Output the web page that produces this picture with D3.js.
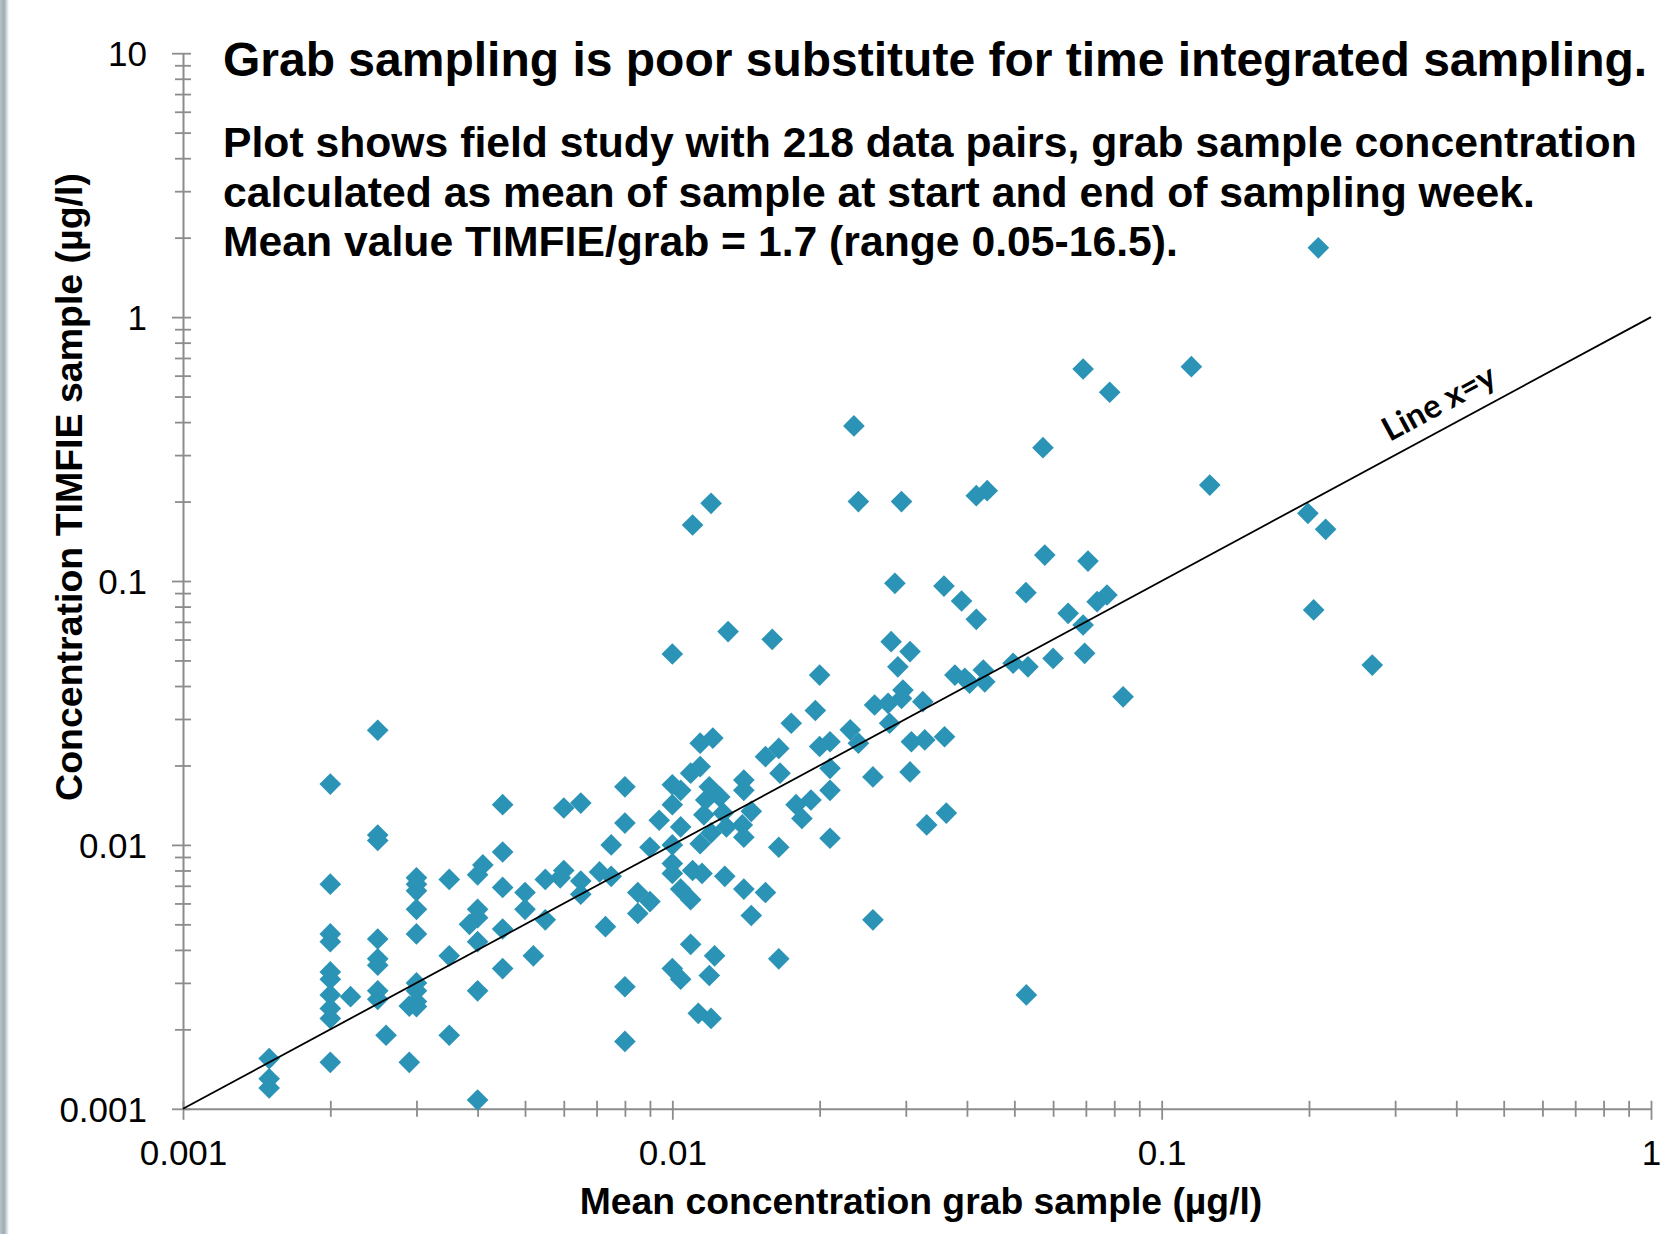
<!DOCTYPE html>
<html>
<head>
<meta charset="utf-8">
<script src="https://cdn.jsdelivr.net/npm/d3@7/dist/d3.min.js"></script>
<style>
  html, body { margin: 0; padding: 0; background: #ffffff; }
  svg { display: block; }
</style>
</head>
<body>
<script>
// ---------------- DATA ----------------
// Mean concentration grab sample (µg/l)
const grabConc = [
  0.0015, 0.0015, 0.0015,
  0.002, 0.002, 0.002, 0.002, 0.002, 0.002, 0.002, 0.002, 0.002, 0.002,
  0.0022,
  0.0025, 0.0025, 0.0025, 0.0025, 0.0025, 0.0025, 0.0025, 0.0025,
  0.0026,
  0.003, 0.003, 0.003, 0.003, 0.003, 0.003, 0.003, 0.003, 0.003,
  0.0029, 0.0029,
  0.0035, 0.0035, 0.0035,
  0.00385, 0.004, 0.0041,
  0.004, 0.004, 0.004, 0.004, 0.004,
  0.0045, 0.0045, 0.0045, 0.0045, 0.0045,
  // central cluster
  0.0114, 0.0109, 0.0100, 0.0104, 0.0080, 0.0060, 0.0065, 0.0100, 0.0080, 0.0094,
  0.0104, 0.0075, 0.0090, 0.0100, 0.0100, 0.0100, 0.0110, 0.0060, 0.0059, 0.0055,
  0.0065, 0.0071, 0.0075, 0.0050, 0.0065, 0.0085, 0.0090, 0.0104, 0.0109, 0.0050,
  0.0085, 0.0055, 0.0073, 0.0052, 0.0109, 0.0100, 0.0104, 0.0080, 0.0113, 0.0080,
  // 0.011 - 0.026
  0.0175, 0.0231, 0.0240, 0.0121, 0.0165, 0.0155, 0.0200, 0.0210, 0.0114, 0.0166,
  0.0210, 0.0140, 0.0140, 0.0119, 0.0125, 0.0117, 0.0210, 0.0192, 0.0179, 0.0184,
  0.0145, 0.0116, 0.0127, 0.0139, 0.0140, 0.0129, 0.0120, 0.0114, 0.0165, 0.0210,
  0.0257, 0.0115, 0.0128, 0.0140, 0.0155, 0.0145, 0.0257, 0.0122, 0.0165, 0.0119,
  0.0120,
  // 0.026 - 0.08
  0.0280, 0.0306, 0.0289, 0.0378, 0.0396, 0.0405, 0.0432, 0.0435, 0.0497, 0.0533,
  0.0600, 0.0696, 0.0296, 0.0294, 0.0276, 0.0259, 0.0325, 0.0278, 0.0308, 0.0328,
  0.0360, 0.0306, 0.0834, 0.0331, 0.0363, 0.0529,
  // upper part
  0.0235, 0.0572, 0.0120, 0.0110, 0.0240, 0.0294, 0.0418, 0.0440, 0.0577, 0.0285,
  0.0359, 0.0390, 0.0418, 0.0528, 0.0130, 0.0160, 0.0100, 0.0200, 0.0196,
  // right part
  0.0691, 0.115, 0.0783, 0.1254, 0.199, 0.2163, 0.0707, 0.0773, 0.0738, 0.0644,
  0.0691, 0.2045, 0.2694,
  0.209
];
// Concentration TIMFIE sample (µg/l)
const timfieConc = [
  0.00155, 0.0013, 0.0012,
  0.017, 0.0071, 0.0046, 0.0043, 0.0033, 0.0031, 0.0027, 0.0024, 0.0022, 0.0015,
  0.00266,
  0.0272, 0.0109, 0.0104, 0.0044, 0.0037, 0.0035, 0.0028, 0.0026,
  0.0019,
  0.0075, 0.0071, 0.0067, 0.0057, 0.0046, 0.0030, 0.0028, 0.00255, 0.00244,
  0.00245, 0.0015,
  0.0074, 0.0038, 0.0019,
  0.0050, 0.0077, 0.0084,
  0.0057, 0.0053, 0.0043, 0.0028, 0.00108,
  0.0142, 0.0094, 0.0069, 0.0048, 0.0034,
  // central cluster
  0.0243, 0.0187, 0.0169, 0.0161, 0.0166, 0.0138, 0.0144, 0.0142, 0.0121, 0.0124,
  0.0117, 0.0100, 0.0098, 0.0100, 0.0085, 0.0078, 0.0080, 0.0080, 0.0075, 0.0074,
  0.0073, 0.0079, 0.0076, 0.0066, 0.0065, 0.0066, 0.0061, 0.0068, 0.0062, 0.0057,
  0.0055, 0.0052, 0.0049, 0.0038, 0.0042, 0.0034, 0.0031, 0.0029, 0.0023, 0.0018,
  // 0.011 - 0.026
  0.0289, 0.0273, 0.0243, 0.0254, 0.0232, 0.0216, 0.0236, 0.0246, 0.0198, 0.0187,
  0.0195, 0.0176, 0.0161, 0.0166, 0.0152, 0.0148, 0.0161, 0.0148, 0.0142, 0.0126,
  0.0134, 0.0130, 0.0132, 0.0119, 0.0107, 0.0117, 0.0111, 0.0101, 0.0098, 0.0106,
  0.0181, 0.0078, 0.0076, 0.0068, 0.0066, 0.0054, 0.0052, 0.0038, 0.0037, 0.0032,
  0.0022,
  // 0.026 - 0.08
  0.0589, 0.0540, 0.0473, 0.0440, 0.0428, 0.0410, 0.0460, 0.0415, 0.0488, 0.0473,
  0.0509, 0.0532, 0.0386, 0.0359, 0.0344, 0.0339, 0.0349, 0.0289, 0.0246, 0.0250,
  0.0257, 0.0189, 0.0364, 0.0119, 0.0132, 0.0027,
  // upper part
  0.387, 0.320, 0.197, 0.163, 0.200, 0.200, 0.2105, 0.220, 0.1254, 0.098,
  0.0957, 0.084, 0.0716, 0.0903, 0.0643, 0.0601, 0.0529, 0.0440, 0.0323,
  // right part
  0.636, 0.649, 0.519, 0.231, 0.1805, 0.157, 0.119, 0.0885, 0.0835, 0.0754,
  0.0681, 0.0777, 0.048,
  1.83
];

const xTickValues = [0.001, 0.01, 0.1, 1];
const xTickLabels = ["0.001", "0.01", "0.1", "1"];
const yTickValues = [0.001, 0.01, 0.1, 1, 10];
const yTickLabels = ["0.001", "0.01", "0.1", "1", "10"];
const lineXY = [0.001, 1];

const titleText = "Grab sampling is poor substitute for time integrated sampling.";
const noteLines = [
  "Plot shows field study with 218 data pairs, grab sample concentration",
  "calculated as mean of sample at start and end of sampling week.",
  "Mean value TIMFIE/grab = 1.7 (range 0.05-16.5)."
];
const xTitle = "Mean concentration grab sample (µg/l)";
const yTitle = "Concentration TIMFIE sample (µg/l)";
const lineLabel = "Line x=y";

// ---------------- CHART ----------------
const W = 1667, H = 1234;
const FONT = "'Liberation Sans', Arial, Helvetica, sans-serif";
const AXIS_COLOR = "#8c8c8c";
const MARK_COLOR = "#2b94b6";

const svg = d3.select("body").append("svg")
  .attr("width", W).attr("height", H)
  .style("font-family", FONT);

svg.append("rect").attr("width", W).attr("height", H).attr("fill", "#ffffff");

// window edge strip at left
const defs = svg.append("defs");
const grad = defs.append("linearGradient").attr("id", "edge").attr("x1", 0).attr("x2", 1).attr("y1", 0).attr("y2", 0);
grad.append("stop").attr("offset", 0).attr("stop-color", "#b9c3c9");
grad.append("stop").attr("offset", 0.45).attr("stop-color", "#9eabb2");
grad.append("stop").attr("offset", 1).attr("stop-color", "#ffffff");
svg.append("rect").attr("x", 0).attr("y", 0).attr("width", 9).attr("height", H).attr("fill", "url(#edge)");

const x = d3.scaleLog().domain([0.001, 1]).range([183, 1651]);
const y = d3.scaleLog().domain([0.001, 10]).range([1108.8, 53.2]);

function minorTicks(domain) {
  const out = [];
  const lo = Math.round(Math.log10(domain[0])), hi = Math.round(Math.log10(domain[1]));
  for (let e = lo; e < hi; e++) {
    for (let m = 1; m <= 9; m++) out.push(m * Math.pow(10, e));
  }
  out.push(Math.pow(10, hi));
  return out;
}
const isMajor = v => Math.abs(Math.log10(v) - Math.round(Math.log10(v))) < 1e-9;

// X axis
const xTicksAll = minorTicks(x.domain());
const xAxis = d3.axisBottom(x)
  .tickValues(xTicksAll)
  .tickSizeOuter(0)
  .tickFormat(v => { const i = xTickValues.findIndex(t => Math.abs(t - v) / t < 1e-9); return i >= 0 ? xTickLabels[i] : ""; });
const gx = svg.append("g").attr("transform", `translate(0,${y(0.001)})`).call(xAxis);
gx.select(".domain").attr("stroke", AXIS_COLOR).attr("stroke-width", 2);
gx.selectAll(".tick line").attr("stroke", AXIS_COLOR).attr("stroke-width", 1.8)
  .attr("y1", -8).attr("y2", d => isMajor(d) ? 11 : 8);
gx.selectAll(".tick text").attr("y", 56).attr("dy", null)
  .attr("fill", "#000").style("font-size", "35px").style("font-family", FONT);

// Y axis
const yTicksAll = minorTicks(y.domain());
const yAxis = d3.axisLeft(y)
  .tickValues(yTicksAll)
  .tickSizeOuter(0)
  .tickFormat(v => { const i = yTickValues.findIndex(t => Math.abs(t - v) / t < 1e-9); return i >= 0 ? yTickLabels[i] : ""; });
const gy = svg.append("g").attr("transform", `translate(${x(0.001)},0)`).call(yAxis);
gy.select(".domain").attr("stroke", AXIS_COLOR).attr("stroke-width", 2);
gy.selectAll(".tick line").attr("stroke", AXIS_COLOR).attr("stroke-width", 1.8)
  .attr("x1", d => isMajor(d) ? -11 : -8).attr("x2", 8);
gy.selectAll(".tick text").attr("x", -36).attr("dy", "0.36em")
  .attr("fill", "#000").style("font-size", "35px").style("font-family", FONT);

// Points
const pts = grabConc.map((g, i) => ({ g, t: timfieConc[i] }));
const diamond = d3.symbol().type(d3.symbolSquare).size(235);
svg.append("g").selectAll("path")
  .data(pts).join("path")
  .attr("d", diamond)
  .attr("transform", d => `translate(${x(d.g)},${y(d.t)}) rotate(45)`)
  .attr("fill", MARK_COLOR);

// Line x = y
const line = d3.line().x(v => x(v)).y(v => y(v));
svg.append("path").datum(lineXY).attr("d", line)
  .attr("fill", "none").attr("stroke", "#000").attr("stroke-width", 1.8);

// Line label
const ang = Math.atan2(y(lineXY[1]) - y(lineXY[0]), x(lineXY[1]) - x(lineXY[0])) * 180 / Math.PI;
const labelAt = 0.39;
svg.append("text")
  .attr("transform", `translate(${x(labelAt)},${y(labelAt)}) rotate(${ang})`)
  .attr("y", -14)
  .attr("text-anchor", "middle")
  .style("font-family", "Lato, 'Open Sans', sans-serif")
  .style("font-weight", "700")
  .style("font-size", "33px")
  .text(lineLabel);

// Title and notes
svg.append("text").attr("x", 223).attr("y", 76)
  .style("font-weight", "bold").style("font-size", "48px").text(titleText);
const noteY = [157, 207, 256];
noteLines.forEach((t, i) => {
  svg.append("text").attr("x", 223).attr("y", noteY[i])
    .style("font-weight", "bold").style("font-size", "42.7px").text(t);
});

// Axis titles
svg.append("text").attr("x", (x(0.001) + x(1)) / 2 + 4).attr("y", 1214)
  .attr("text-anchor", "middle")
  .style("font-weight", "bold").style("font-size", "37.3px").text(xTitle);
svg.append("text")
  .attr("transform", `translate(82,${487}) rotate(-90)`)
  .attr("text-anchor", "middle")
  .style("font-weight", "bold").style("font-size", "37.5px").text(yTitle);
</script>
</body>
</html>
